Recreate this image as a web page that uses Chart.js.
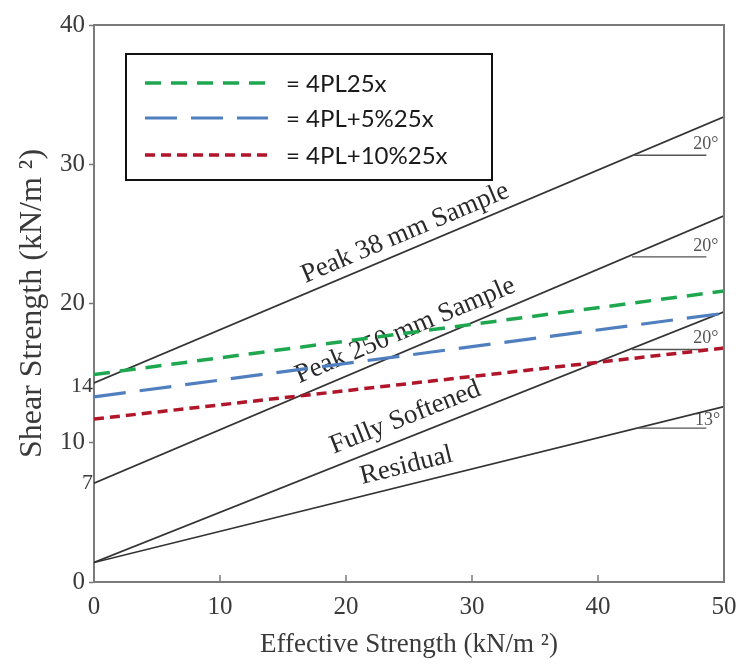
<!DOCTYPE html>
<html><head><meta charset="utf-8">
<script src="https://cdn.jsdelivr.net/npm/chart.js@4.4.0/dist/chart.umd.min.js"></script>
<style>html,body{margin:0;padding:0;background:#fff}#wrap{width:736px;height:669px;position:relative}</style>
</head><body><div id="wrap"><canvas id="c"></canvas></div>
<script>
// ---- data ----
const xEnds = [0, 50];
const peak38 = [14.3, 33.4];
const peak250 = [7.1, 26.3];
const fullySoftened = [1.4, 19.4];
const residual = [1.4, 12.6];
const pl25x = [14.9, 20.9];
const pl5pct25x = [13.3, 19.3];
const pl10pct25x = [11.7, 16.8];
const seriesLabels = ['= 4PL25x', '= 4PL+5%25x', '= 4PL+10%25x'];
const lineLabels = ['Peak 38 mm Sample', 'Peak 250 mm Sample', 'Fully Softened', 'Residual'];
const lineLabelPos = [[24.7, 25.06], [24.7, 18.05], [24.7, 11.8], [24.8, 8.35]];
const angleLabels = ['20°', '20°', '20°', '13°'];
const angleLabelPos = [[48.55, 31.45], [48.55, 24.13], [48.55, 17.52], [48.7, 11.63]];
const angleMarkStartX = [42.8, 42.7, 42.7, 43.1];
const angleMarkEndX = 48.6;
const angleMarkY = [30.65, 23.35, 16.7, 11.05];
const xTicks = [0, 10, 20, 30, 40, 50];
const yTicks = [0, 10, 20, 30, 40];
const yExtraTicks = [14, 7];
const xTitle = 'Effective Strength (kN/m ²)';
const yTitle = 'Shear Strength (kN/m ²)';

const pts = (arr) => xEnds.map((x, i) => ({x, y: arr[i]}));
const SERIF = '"Liberation Serif", "Times New Roman", serif';

const dashedSets = [
  {label: seriesLabels[0], data: pts(pl25x), borderColor: '#1fa750', borderWidth: 3.5, borderDash: [16, 10]},
  {label: seriesLabels[1], data: pts(pl5pct25x), borderColor: '#4f7fbf', borderWidth: 3.2, borderDash: [32, 14]},
  {label: seriesLabels[2], data: pts(pl10pct25x), borderColor: '#b0152a', borderWidth: 3.5, borderDash: [10, 6]}
];
const solidSets = [peak38, peak250, fullySoftened, residual].map((arr, i) => ({
  label: lineLabels[i], data: pts(arr), borderColor: '#333', borderWidth: 1.7
}));
const markSets = angleMarkY.map((yv, i) => ({
  label: 'mark' + i, data: [{x: angleMarkStartX[i], y: yv}, {x: angleMarkEndX, y: yv}],
  borderColor: '#555', borderWidth: 1.4
}));

const overlay = {
  id: 'overlay',
  beforeDatasetsDraw(chart) {
    const {ctx, scales: {x, y}} = chart;
    const lines = [peak38, peak250, fullySoftened, residual];
    ctx.save();
    ctx.font = '27px ' + SERIF;
    ctx.fillStyle = '#2a2a2a';
    ctx.textAlign = 'center';
    ctx.textBaseline = 'middle';
    lines.forEach((ln, i) => {
      const ang = Math.atan2(y.getPixelForValue(ln[1]) - y.getPixelForValue(ln[0]),
                             x.getPixelForValue(xEnds[1]) - x.getPixelForValue(xEnds[0]));
      const px = x.getPixelForValue(lineLabelPos[i][0]);
      const py = y.getPixelForValue(lineLabelPos[i][1]);
      ctx.save(); ctx.translate(px, py); ctx.rotate(ang);
      ctx.fillText(lineLabels[i], 0, 0);
      ctx.restore();
    });
    ctx.font = '18px ' + SERIF;
    ctx.fillStyle = '#555';
    angleLabels.forEach((t, i) => {
      ctx.fillText(t, x.getPixelForValue(angleLabelPos[i][0]), y.getPixelForValue(angleLabelPos[i][1]));
    });
    ctx.restore();
  },
  afterDraw(chart) {
    const {ctx, chartArea: a, scales: {x, y}} = chart;
    ctx.save();
    // frame top/right
    ctx.strokeStyle = '#7a7a7a';
    ctx.lineWidth = 2;
    ctx.beginPath();
    ctx.moveTo(a.left, a.top); ctx.lineTo(a.right, a.top); ctx.lineTo(a.right, a.bottom);
    ctx.stroke();
    // inward x ticks
    ctx.lineWidth = 1.5;
    xTicks.slice(1, -1).forEach(v => {
      const px = x.getPixelForValue(v);
      ctx.beginPath(); ctx.moveTo(px, a.bottom); ctx.lineTo(px, a.bottom - 7); ctx.stroke();
    });
    // extra y labels
    ctx.fillStyle = '#3a3a3a';
    ctx.font = '22px ' + SERIF;
    ctx.textAlign = 'right';
    ctx.textBaseline = 'middle';
    yExtraTicks.forEach(v => ctx.fillText(String(v), a.left - 1, y.getPixelForValue(v) - 1));
    // legend
    const L = 126, T = 54, R = 492, B = 180;
    ctx.fillStyle = '#fff';
    ctx.fillRect(L, T, R - L, B - T);
    ctx.strokeStyle = '#111';
    ctx.lineWidth = 2;
    ctx.strokeRect(L, T, R - L, B - T);
    const rows = [83, 118, 155];
    dashedSets.forEach((ds, i) => {
      ctx.strokeStyle = ds.borderColor;
      ctx.lineWidth = ds.borderWidth;
      ctx.setLineDash(ds.borderDash);
      ctx.beginPath(); ctx.moveTo(145, rows[i]); ctx.lineTo(268, rows[i]); ctx.stroke();
      ctx.setLineDash([]);
      ctx.fillStyle = '#1a1a1a';
      ctx.font = '24px Lato, "Open Sans", sans-serif';
      ctx.textAlign = 'left';
      ctx.textBaseline = 'middle';
      ctx.fillText(ds.label, 286, rows[i] + 1);
    });
    ctx.restore();
  }
};

new Chart(document.getElementById('c'), {
  type: 'scatter',
  data: {datasets: [...dashedSets, ...markSets, ...solidSets].map(d => ({
    ...d, showLine: true, pointRadius: 0, pointHoverRadius: 0, fill: false
  }))},
  options: {
    responsive: true,
    maintainAspectRatio: false,
    animation: false,
    events: [],
    layout: {padding: {top: 25, right: 12, left: 4, bottom: 0}},
    plugins: {legend: {display: false}, tooltip: {enabled: false}},
    scales: {
      x: {
        type: 'linear', min: 0, max: 50,
        afterBuildTicks: s => { s.ticks = xTicks.map(v => ({value: v})); },
        afterFit: s => { s.height = 87; s.paddingRight = 0; },
        border: {display: true, color: '#7a7a7a', width: 2},
        grid: {drawOnChartArea: false, drawTicks: false},
        ticks: {color: '#3a3a3a', font: {family: SERIF, size: 25}, padding: 10, maxRotation: 0},
        title: {display: true, text: xTitle, color: '#3a3a3a', font: {family: SERIF, size: 27}, padding: {top: 0, bottom: 8}}
      },
      y: {
        type: 'linear', min: 0, max: 40,
        afterBuildTicks: s => { s.ticks = yTicks.map(v => ({value: v})); },
        afterFit: s => { s.width = 90; },
        border: {display: true, color: '#7a7a7a', width: 2},
        grid: {drawOnChartArea: false, drawTicks: true, tickLength: 5, color: '#777', tickWidth: 1.5},
        ticks: {color: '#3a3a3a', font: {family: SERIF, size: 25}, padding: 4},
        title: {display: true, text: yTitle, color: '#3a3a3a', font: {family: SERIF, size: 32}, padding: {top: 9, bottom: 0}}
      }
    }
  },
  plugins: [overlay]
});
</script>
</body></html>
